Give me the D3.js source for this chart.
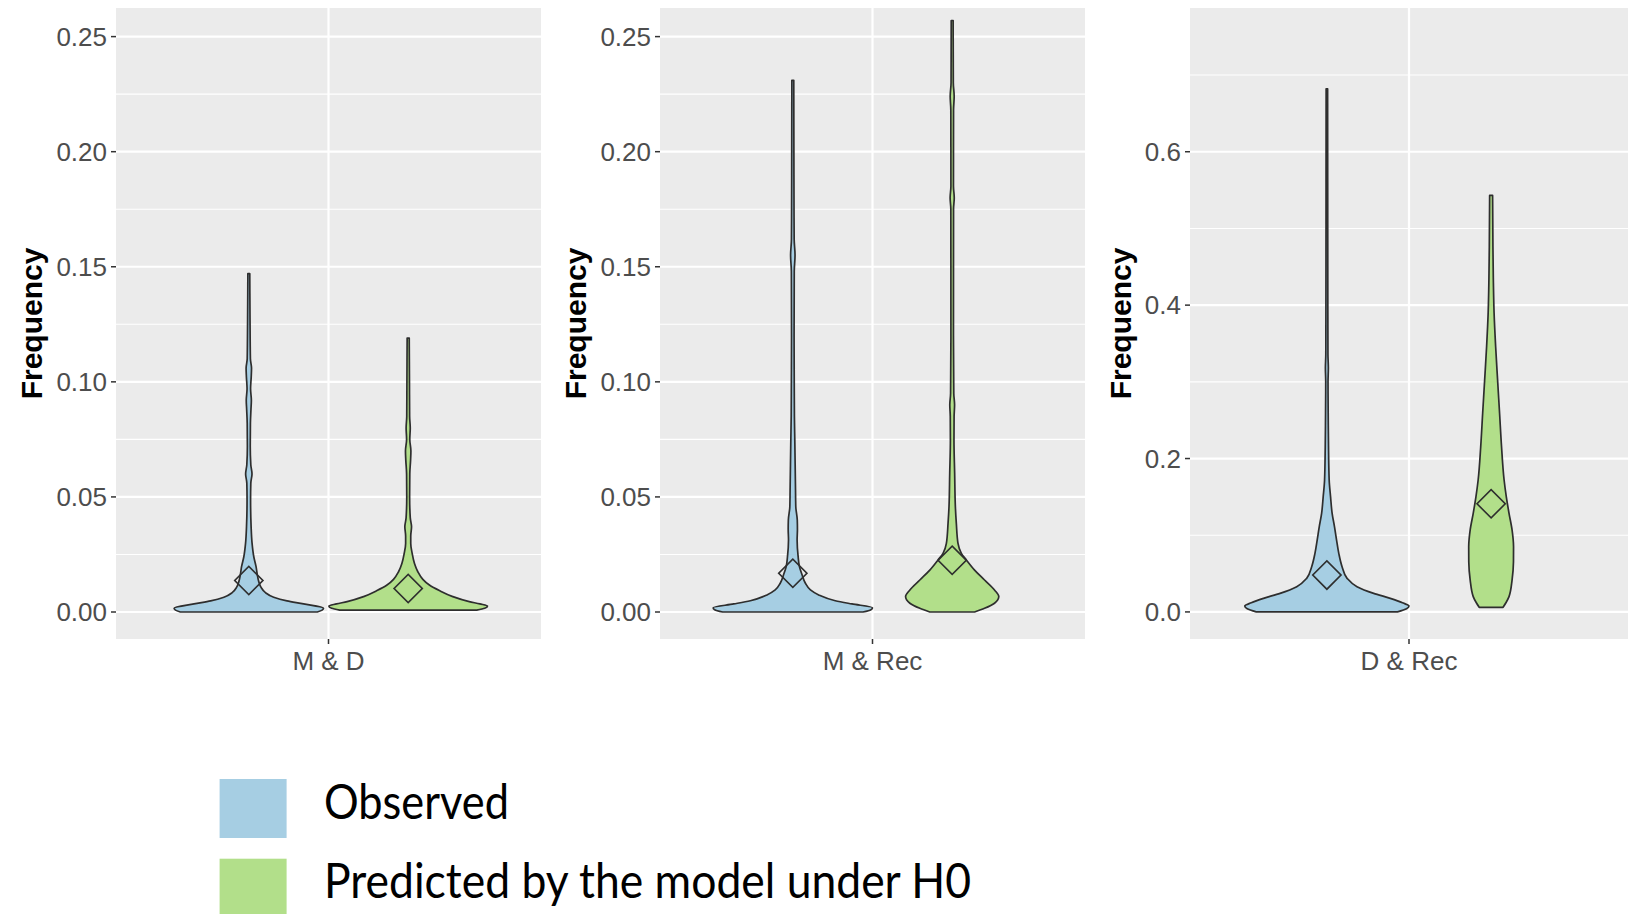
<!DOCTYPE html>
<html>
<head>
<meta charset="utf-8">
<script src="https://cdn.jsdelivr.net/npm/d3@7"></script>
<style>
  body { margin: 0; background: #ffffff; }
  svg { display: block; }
</style>
</head>
<body>
<svg id="chart" width="1640" height="914"></svg>
<script>
// Pair comparisons, one panel each
const pairs = ["M & D", "M & Rec", "D & Rec"];
const groups = ["Observed", "Predicted by the model under H0"];
const groupColors = ["#A6CEE3", "#B2DF8A"];

// Violin outlines: [frequency, relative density] (1 = widest violin in its panel)
const observedMD = [
  [0, 0.86], [0.0008, 0.92], [0.0016, 0.9375], [0.0035, 0.6875], [0.0048, 0.479],
  [0.0064, 0.3125], [0.0084, 0.209], [0.0107, 0.154], [0.0132, 0.125], [0.0165, 0.105],
  [0.0197, 0.091], [0.024, 0.0625], [0.0298, 0.041], [0.037, 0.029], [0.0487, 0.022],
  [0.056, 0.025], [0.060, 0.04], [0.064, 0.025], [0.072, 0.018], [0.082, 0.02],
  [0.088, 0.027], [0.092, 0.032], [0.097, 0.022], [0.102, 0.03], [0.106, 0.034],
  [0.110, 0.02], [0.128, 0.015], [0.147, 0.012]
];
const predictedMD = [
  [0.0008, 0.86], [0.0016, 0.96], [0.0026, 0.996], [0.0035, 0.9], [0.0045, 0.766],
  [0.0067, 0.559], [0.0093, 0.391], [0.0117, 0.266], [0.0142, 0.184], [0.0175, 0.121],
  [0.0211, 0.079], [0.0255, 0.05], [0.0298, 0.032], [0.033, 0.032], [0.037, 0.042],
  [0.041, 0.026], [0.05, 0.018], [0.06, 0.02], [0.066, 0.03], [0.070, 0.034],
  [0.075, 0.02], [0.080, 0.026], [0.085, 0.018], [0.10, 0.016], [0.119, 0.013]
];
const observedMRec = [
  [0, 0.88], [0.0010, 0.98], [0.0019, 1.0], [0.0035, 0.741], [0.0049, 0.533],
  [0.0074, 0.325], [0.0096, 0.221], [0.0125, 0.158], [0.0161, 0.117], [0.0197, 0.083],
  [0.024, 0.067], [0.0313, 0.054], [0.036, 0.058], [0.040, 0.056], [0.0457, 0.0375],
  [0.053, 0.034], [0.0747, 0.025], [0.085, 0.02], [0.10, 0.018], [0.12, 0.016],
  [0.148, 0.018], [0.155, 0.028], [0.162, 0.017], [0.19, 0.014], [0.231, 0.012]
];
const predictedMRec = [
  [0, 0.281], [0.0016, 0.406], [0.0038, 0.531], [0.0067, 0.585], [0.0096, 0.531],
  [0.0139, 0.406], [0.0182, 0.281], [0.0226, 0.178], [0.0255, 0.115], [0.0298, 0.073],
  [0.0385, 0.052], [0.0457, 0.04], [0.0603, 0.031], [0.0747, 0.0225], [0.085, 0.024],
  [0.090, 0.03], [0.095, 0.02], [0.12, 0.016], [0.175, 0.017], [0.180, 0.026],
  [0.185, 0.016], [0.218, 0.017], [0.224, 0.025], [0.230, 0.014], [0.257, 0.012]
];
const observedDRec = [
  [0, 0.86], [0.004, 0.97], [0.0077, 1.0], [0.012, 0.92], [0.0177, 0.772],
  [0.0242, 0.57], [0.0329, 0.367], [0.0438, 0.246], [0.059, 0.185], [0.0764, 0.145],
  [0.0937, 0.118], [0.111, 0.093], [0.1285, 0.064], [0.150, 0.045], [0.172, 0.028],
  [0.215, 0.02], [0.26, 0.016], [0.300, 0.014], [0.318, 0.018], [0.336, 0.013],
  [0.45, 0.011], [0.56, 0.01], [0.682, 0.009]
];
const predictedDRec = [
  [0.006, 0.145], [0.012, 0.18], [0.020, 0.218], [0.0416, 0.255], [0.065, 0.272],
  [0.085, 0.273], [0.107, 0.255], [0.1286, 0.218], [0.150, 0.185], [0.172, 0.158],
  [0.215, 0.127], [0.259, 0.103], [0.302, 0.079], [0.346, 0.055], [0.39, 0.036],
  [0.433, 0.027], [0.476, 0.022], [0.543, 0.018]
];

// Group means, drawn as diamonds
const observedMeans = [0.0137, 0.0168, 0.048];
const predictedMeans = [0.0102, 0.0225, 0.141];

// Axis breaks
const majorSmall = [0, 0.05, 0.10, 0.15, 0.20, 0.25];
const minorSmall = [0.025, 0.075, 0.125, 0.175, 0.225];
const majorLarge = [0, 0.2, 0.4, 0.6];
const minorLarge = [0.1, 0.3, 0.5, 0.7];

const violinsByPanel = [
  [observedMD, predictedMD],
  [observedMRec, predictedMRec],
  [observedDRec, predictedDRec]
];

// Panel layout
const panelTop = 8, panelBottom = 639;
const panelSpecs = [
  { left: 116, right: 541, domain: [-0.01173, 0.26243], major: majorSmall, minor: minorSmall, fmt: d3.format(".2f") },
  { left: 660, right: 1085, domain: [-0.01173, 0.26243], major: majorSmall, minor: minorSmall, fmt: d3.format(".2f") },
  { left: 1190, right: 1628, domain: [-0.0353, 0.7874], major: majorLarge, minor: minorLarge, fmt: d3.format(".1f") }
];

const svg = d3.select("#chart");
const axisFont = "'Liberation Sans', Arial, Helvetica, sans-serif";
const dodge = 0.225;   // half of the 0.9 dodge width
const tickLen = 5;

panelSpecs.forEach((p, i) => {
  const g = svg.append("g");
  const y = d3.scaleLinear().domain(p.domain).range([panelBottom, panelTop]);
  const x = d3.scaleLinear().domain([0.4, 1.6]).range([p.left, p.right]);
  const halfWidth = d3.scaleLinear().domain([0, 1]).range([0, x(1 + dodge) - x(1)]);

  // panel background
  g.append("rect")
    .attr("x", p.left).attr("y", panelTop)
    .attr("width", p.right - p.left).attr("height", panelBottom - panelTop)
    .attr("fill", "#EBEBEB");

  // grid
  g.selectAll(".minor").data(p.minor).join("line")
    .attr("x1", p.left).attr("x2", p.right)
    .attr("y1", d => y(d)).attr("y2", d => y(d))
    .attr("stroke", "#ffffff").attr("stroke-width", 1.1);
  g.selectAll(".major").data(p.major).join("line")
    .attr("x1", p.left).attr("x2", p.right)
    .attr("y1", d => y(d)).attr("y2", d => y(d))
    .attr("stroke", "#ffffff").attr("stroke-width", 2.2);
  g.append("line")
    .attr("x1", x(1)).attr("x2", x(1))
    .attr("y1", panelTop).attr("y2", panelBottom)
    .attr("stroke", "#ffffff").attr("stroke-width", 2.2);

  // y axis ticks and labels
  g.selectAll(".ytick").data(p.major).join("line")
    .attr("x1", p.left - tickLen).attr("x2", p.left)
    .attr("y1", d => y(d)).attr("y2", d => y(d))
    .attr("stroke", "#333333").attr("stroke-width", 1.5);
  const labels = g.selectAll(".ylab").data(p.major).join("text")
    .attr("x", p.left - tickLen - 4)
    .attr("y", d => y(d))
    .attr("dy", "0.36em")
    .attr("text-anchor", "end")
    .attr("font-family", axisFont)
    .attr("font-size", 26)
    .attr("fill", "#4D4D4D")
    .text(d => p.fmt(d));
  let maxW = 0;
  labels.each(function () { maxW = Math.max(maxW, this.getComputedTextLength()); });

  // y axis title
  const titleX = p.left - tickLen - 4 - maxW - 14;
  const midY = (panelTop + panelBottom) / 2;
  g.append("text")
    .attr("transform", `translate(${titleX},${midY}) rotate(-90)`)
    .attr("text-anchor", "middle")
    .attr("font-family", axisFont)
    .attr("font-size", 30)
    .attr("font-weight", "bold")
    .attr("fill", "#000000")
    .text("Frequency");

  // x axis tick and category label
  g.append("line")
    .attr("x1", x(1)).attr("x2", x(1))
    .attr("y1", panelBottom).attr("y2", panelBottom + tickLen)
    .attr("stroke", "#333333").attr("stroke-width", 1.5);
  g.append("text")
    .attr("x", x(1)).attr("y", 670)
    .attr("text-anchor", "middle")
    .attr("font-family", axisFont)
    .attr("font-size", 26)
    .attr("fill", "#4D4D4D")
    .text(pairs[i]);

  // violins
  const centers = [x(1 - dodge), x(1 + dodge)];
  violinsByPanel[i].forEach((profile, k) => {
    const cx = centers[k];
    const area = d3.area()
      .curve(d3.curveMonotoneY)
      .y(d => y(d[0]))
      .x0(d => cx - halfWidth(d[1]))
      .x1(d => cx + halfWidth(d[1]));
    g.append("path")
      .attr("d", area(profile))
      .attr("fill", groupColors[k])
      .attr("stroke", "#2E2E2E")
      .attr("stroke-width", 1.7)
      .attr("stroke-linejoin", "round");
  });

  // means
  const means = [observedMeans[i], predictedMeans[i]];
  const diamond = d3.symbol(d3.symbolSquare, 400);
  means.forEach((m, k) => {
    g.append("path")
      .attr("d", diamond())
      .attr("transform", `translate(${centers[k]},${y(m)}) rotate(45)`)
      .attr("fill", "none")
      .attr("stroke", "#2E2E2E")
      .attr("stroke-width", 1.6);
  });
});

// Legend
const legendFont = "Lato, 'Open Sans', sans-serif";
const legendRows = [
  { top: 779, baseline: 819, width: 185 },
  { top: 858.7, baseline: 898.4, width: 647 }
];
groups.forEach((name, k) => {
  const row = legendRows[k];
  svg.append("rect")
    .attr("x", 219.6).attr("y", row.top)
    .attr("width", 67).attr("height", 59)
    .attr("fill", groupColors[k]);
  svg.append("text")
    .attr("x", 324).attr("y", row.baseline)
    .attr("font-family", legendFont)
    .attr("font-size", 48)
    .attr("fill", "#000000")
    .attr("textLength", row.width)
    .attr("lengthAdjust", "spacingAndGlyphs")
    .text(name);
});
</script>
</body>
</html>
